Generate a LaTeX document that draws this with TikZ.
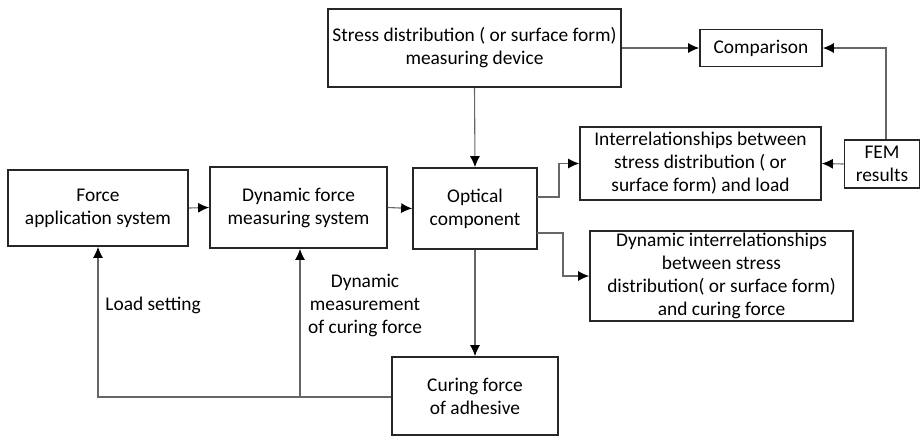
\documentclass[tikz,border=0pt]{standalone}
\usepackage{fontspec}
\setmainfont{Carlito}
\usetikzlibrary{arrows.meta}
\tikzset{
  box/.style={draw=black!85, line width=0.85pt, align=center, inner sep=1pt,
    font=\fontsize{9.7}{11.5}\selectfont},
  conn/.style={draw=black!60, line width=0.55pt},
  arr/.style={conn, -{Latex[length=5.5pt,width=5pt,black]}},
  lbl/.style={align=center, inner sep=0pt, font=\fontsize{9.7}{11.5}\selectfont}
}
\begin{document}
\begin{tikzpicture}[x=0.5pt,y=-0.5pt]
\useasboundingbox (0,0) rectangle (920,436);
% boxes
\node[box, minimum width=146.5pt, minimum height=39pt] (stress) at (474.5,48) {Stress distribution ( or surface form)\\measuring device};
\node[box, minimum width=61pt, minimum height=18.5pt] (comp) at (761,48) {Comparison};
\node[box, minimum width=37.5pt, minimum height=24pt] (fem) at (882,164) {FEM\\results};
\node[box, minimum width=120.5pt, minimum height=36.5pt] (inter) at (700.5,163.5) {Interrelationships between\\stress distribution ( or\\surface form) and load};
\node[box, minimum width=62pt, minimum height=40.5pt] (opt) at (475,208.5) {Optical\\component};
\node[box, minimum width=131.5pt, minimum height=44pt] (dyni) at (721.5,276) {Dynamic interrelationships\\between stress\\distribution( or surface form)\\and curing force};
\node[box, minimum width=90pt, minimum height=38pt] (force) at (98,208) {Force\\application system};
\node[box, minimum width=88.5pt, minimum height=40.5pt] (dynf) at (298.5,207.5) {Dynamic force\\measuring system};
\node[box, minimum width=83pt, minimum height=39pt] (cur) at (475,396) {Curing force\\of adhesive};
% labels
\node[lbl, anchor=west] (lload) at (105,305) {Load setting};
\node[lbl] (ldyn) at (365,305) {Dynamic\\measurement\\of curing force};
% connectors
\coordinate (fx) at (886,0);
\coordinate (bx) at (300,0);
\coordinate (j) at (300,397);
\coordinate (o1) at (537,197);
\coordinate (o2) at (537,233);
\draw[arr] (stress.east) -- (comp.west);
\draw[arr] (fem.north -| fx) |- (comp.east);
\draw[arr] (fem.west) -- (inter.east);
\draw[arr] (force.east) -- (dynf.west);
\draw[arr] (dynf.east) -- (opt.west);
\draw[arr] (stress.south) -- (opt.north);
\draw[arr] (opt.south) -- (cur.north);
\draw[arr] (o1) -- (559,197) |- (inter.west);
\draw[arr] (o2) -- (563,233) |- (dyni.west);
\draw[arr] (cur.west |- j) -| (force.south);
\draw[arr] (j) -- (dynf.south -| bx);
\end{tikzpicture}
\end{document}
